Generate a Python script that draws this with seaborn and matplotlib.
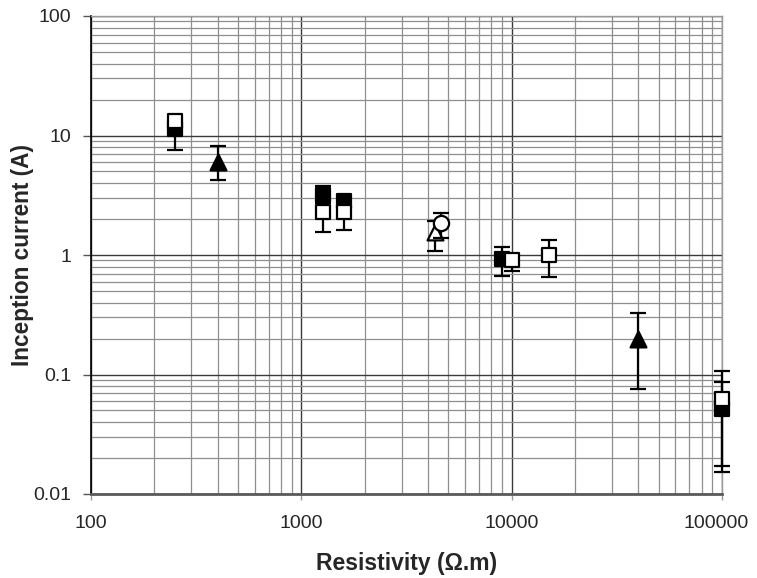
import numpy as np
import pandas as pd
import matplotlib
matplotlib.use("Agg")
import matplotlib.pyplot as plt
import seaborn as sns
from matplotlib.ticker import FixedLocator, LogLocator, NullFormatter
from matplotlib.transforms import ScaledTranslation

# Resistivity (ohm.m) and inception current (A) with error-bar limits
fsq_x = [250, 1270, 1600, 9000, 100000]
fsq_y = [11.3, 3.2, 2.85, 0.93, 0.051]
fsq_lo = [7.6, 2.7, 2.6, 0.67, 0.0153]
fsq_hi = [13.0, 3.8, 3.1, 1.17, 0.0865]

osq_x = [250, 1270, 1600, 10000, 15000, 100000]
osq_y = [13.2, 2.3, 2.3, 0.9, 1.0, 0.062]
osq_lo = [11.0, 1.56, 1.62, 0.73, 0.655, 0.0171]
osq_hi = [14.0, 3.0, 2.8, 1.0, 1.34, 0.107]

ftri_x = [400, 40000]
ftri_y = [6.0, 0.198]
ftri_lo = [4.25, 0.0757]
ftri_hi = [8.2, 0.327]

otri_x = [4300]
otri_y = [1.56]
otri_lo = [1.08]
otri_hi = [1.93]

ocir_x = [4600]
ocir_y = [1.85]
ocir_lo = [1.39]
ocir_hi = [2.25]

x_ticks = [100, 1000, 10000, 100000]
x_ticklabels = ["100", "1000", "10000", "100000"]
y_ticks = [0.01, 0.1, 1, 10, 100]
y_ticklabels = ["0.01", "0.1", "1", "10", "100"]

sns.set_theme(style="white")
plt.rcParams["font.family"] = ["Liberation Sans", "DejaVu Sans"]

fig = plt.figure(figsize=(7.57, 5.78), dpi=100)
ax = fig.add_axes([91 / 757, 1 - 494 / 578, (722 - 91) / 757, (494 - 16) / 578])
ax.set_xscale("log")
ax.set_yscale("log")
ax.set_xlim(100, 100000)
ax.set_ylim(0.01, 100)

series = [
    ("filled square", fsq_x, fsq_y, fsq_lo, fsq_hi, "s", "black"),
    ("open square", osq_x, osq_y, osq_lo, osq_hi, "s", "white"),
    ("filled triangle", ftri_x, ftri_y, ftri_lo, ftri_hi, "^", "black"),
    ("open triangle", otri_x, otri_y, otri_lo, otri_hi, "^", "white"),
    ("open circle", ocir_x, ocir_y, ocir_lo, ocir_hi, "o", "white"),
]

z = 3
for name, xs, ys, lo, hi, mk, fc in series:
    xs = np.array(xs, float)
    ys = np.array(ys, float)
    yerr = [ys - np.array(lo), np.array(hi) - ys]
    eb = ax.errorbar(xs, ys, yerr=yerr, fmt="none", ecolor="black", elinewidth=1.6,
                     capsize=6, capthick=1.6, zorder=z)
    for part in eb.get_children():
        part.set_clip_on(False)
    df = pd.DataFrame({"x": xs, "y": ys})
    size = 115 if mk == "s" else (130 if mk == "^" else 120)
    sns.scatterplot(data=df, x="x", y="y", marker=mk, s=size, color=fc,
                    edgecolor="black", linewidth=1.6, ax=ax, zorder=z + 1,
                    legend=False, clip_on=False)
    z += 2

# Grid: decades darker, intermediate values lighter
ax.xaxis.set_major_locator(FixedLocator(x_ticks))
ax.yaxis.set_major_locator(FixedLocator(y_ticks))
ax.xaxis.set_minor_locator(LogLocator(base=10, subs=np.arange(2, 10)))
ax.yaxis.set_minor_locator(LogLocator(base=10, subs=np.arange(2, 10)))
ax.xaxis.set_minor_formatter(NullFormatter())
ax.yaxis.set_minor_formatter(NullFormatter())
ax.set_xticklabels(x_ticklabels)
ax.set_yticklabels(y_ticklabels)
ax.grid(True, which="major", color="#3a3a3a", linewidth=1.0)
ax.grid(True, which="minor", color="#8f8f8f", linewidth=0.9)
ax.set_axisbelow(True)

ax.tick_params(axis="y", which="major", direction="out", length=6, width=1,
               color="#555555", left=True, labelsize=14, pad=8)
ax.tick_params(axis="x", which="major", direction="out", length=4, width=1,
               color="#999999", bottom=True, labelsize=14, pad=11)
ax.tick_params(which="minor", length=0)

# keep the last x label inside the figure
last = ax.get_xticklabels()[-1]
last.set_transform(last.get_transform() + ScaledTranslation(-0.06, 0, fig.dpi_scale_trans))

for side in ["top", "right"]:
    ax.spines[side].set_color("#9a9a9a")
    ax.spines[side].set_linewidth(1.0)
ax.spines["left"].set_color("black")
ax.spines["left"].set_linewidth(1.2)
ax.spines["bottom"].set_color("#5a5a5a")
ax.spines["bottom"].set_linewidth(2.0)

ax.set_xlabel("Resistivity (\u03a9.m)", fontsize=16.5, fontweight="bold")
ax.set_ylabel("Inception current (A)", fontsize=16.3, fontweight="bold")
ax.xaxis.set_label_coords(0.5, (494 - 552) / 478)
ax.yaxis.set_label_coords((34 - 91) / 631, 0.5)

fig.savefig("out.png", dpi=100)
